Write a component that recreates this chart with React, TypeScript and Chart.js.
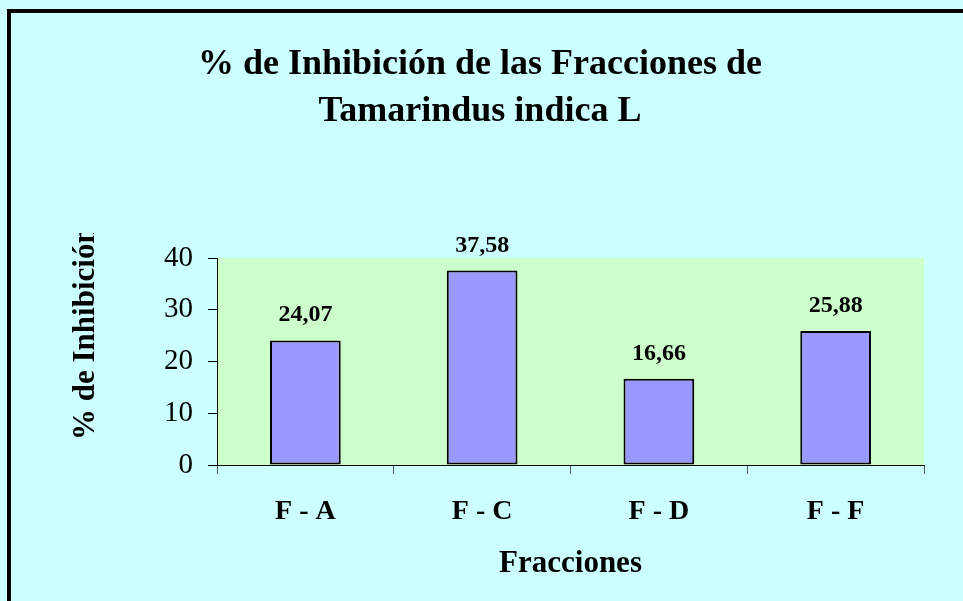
import React, { useEffect, useRef } from "react";
import { Chart, registerables } from "chart.js";

Chart.register(...registerables);

const categories = ["F - A", "F - C", "F - D", "F - F"];
const values = [24.07, 37.58, 16.66, 25.88];
const valueLabels = ["24,07", "37,58", "16,66", "25,88"];
const yTicks = [0, 10, 20, 30, 40];
const titleLines = ["% de Inhibición de las Fracciones de", "Tamarindus indica L"];
const yTitle = "% de Inhibición";
const xTitle = "Fracciones";

const FONT = "'Liberation Serif', 'Times New Roman', serif";

const plotBg = {
  id: "plotBg",
  beforeDraw(chart: any) {
    const { ctx, chartArea } = chart;
    ctx.save();
    ctx.fillStyle = "#CCFFCC";
    ctx.fillRect(chartArea.left, chartArea.top, chartArea.right - chartArea.left, chartArea.bottom - chartArea.top);
    ctx.restore();
  },
};

const extras = {
  id: "extras",
  afterDatasetsDraw(chart: any) {
    const { ctx } = chart;
    const meta = chart.getDatasetMeta(0);
    ctx.save();
    ctx.fillStyle = "#000";
    ctx.font = `bold 24px ${FONT}`;
    ctx.textAlign = "center";
    ctx.textBaseline = "alphabetic";
    meta.data.forEach((bar: any, i: number) => {
      ctx.fillText(valueLabels[i], bar.x, bar.y - 19);
    });
    ctx.restore();

    // y-axis title (clipped at the top like the original)
    ctx.save();
    ctx.beginPath();
    ctx.rect(0, 233, 200, 400);
    ctx.clip();
    ctx.translate(94, 440);
    ctx.rotate(-Math.PI / 2);
    ctx.font = `bold 31px ${FONT}`;
    ctx.fillStyle = "#000";
    ctx.textAlign = "left";
    ctx.textBaseline = "alphabetic";
    ctx.fillText(yTitle, 0, 0);
    ctx.restore();
  },
};

export default function App() {
  const ref = useRef<HTMLCanvasElement | null>(null);

  useEffect(() => {
    document.body.style.margin = "0";
    if (!ref.current) return;
    const chart = new Chart(ref.current, {
      type: "bar",
      data: {
        labels: categories,
        datasets: [
          {
            data: values,
            backgroundColor: "#9999FF",
            borderColor: "#000000",
            borderWidth: 2,
            borderSkipped: false,
            barPercentage: 0.4,
            categoryPercentage: 1.0,
          },
        ],
      },
      options: {
        responsive: false,
        animation: false,
        devicePixelRatio: 1,
        layout: { padding: { left: 36, right: 39, top: 0, bottom: 0 } },
        plugins: {
          legend: { display: false },
          tooltip: { enabled: false },
          title: {
            display: true,
            text: titleLines,
            color: "#000",
            font: { family: FONT, size: 36, weight: "bold", lineHeight: 1.3 },
            padding: { top: 41.6, bottom: 122.8 },
          },
        },
        scales: {
          x: {
            grid: {
              display: true,
              drawOnChartArea: false,
              drawTicks: true,
              tickLength: 9,
              color: "#555555",
              offset: true,
            },
            border: { display: true, color: "#000", width: 1 },
            ticks: {
              color: "#000",
              font: { family: FONT, size: 28, weight: "bold", lineHeight: 1.2 },
              padding: 21,
              maxRotation: 0,
            },
            title: {
              display: true,
              text: xTitle,
              color: "#000",
              font: { family: FONT, size: 31, weight: "bold", lineHeight: 1.2 },
              padding: { top: 0, bottom: 18 },
            },
            afterFit(scale: any) {
              scale.height = 136;
            },
          },
          y: {
            min: 0,
            max: 40,
            afterBuildTicks(scale: any) {
              scale.ticks = yTicks.map((v) => ({ value: v }));
            },
            grid: {
              display: true,
              drawOnChartArea: false,
              drawTicks: true,
              tickLength: 9,
              color: "#000",
            },
            border: { display: true, color: "#000", width: 1 },
            ticks: {
              color: "#000",
              font: { family: FONT, size: 29, lineHeight: 1.2 },
              padding: 15,
            },
            afterFit(scale: any) {
              scale.width = 181;
            },
          },
        },
      },
      plugins: [plotBg, extras],
    });
    return () => chart.destroy();
  }, []);

  return (
    <div style={{ position: "relative", width: 963, height: 601, overflow: "hidden", background: "#CCFFFF" }}>
      <div
        style={{
          position: "absolute",
          left: 7,
          top: 9,
          width: 2000,
          height: 2000,
          borderLeft: "4px solid #000",
          borderTop: "4px solid #000",
          background: "#CCFFFF",
        }}
      />
      <canvas ref={ref} width={963} height={601} style={{ position: "absolute", left: 0, top: 0, width: 963, height: 601 }} />
    </div>
  );
}
